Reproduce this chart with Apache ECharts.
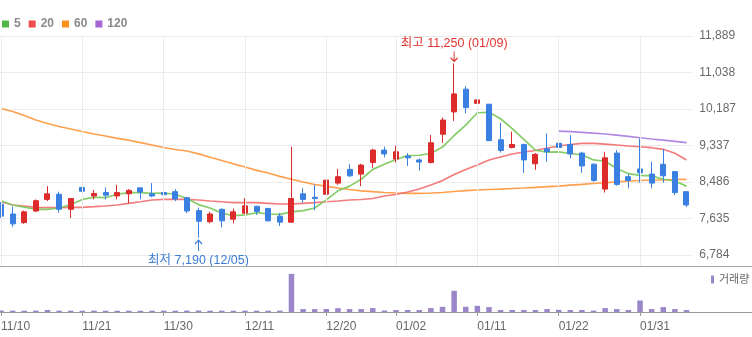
<!DOCTYPE html>
<html>
<head>
<meta charset="utf-8">
<script src="https://cdn.jsdelivr.net/npm/echarts@6/dist/echarts.min.js"></script>
<style>
  html, body { margin: 0; padding: 0; background: #fff; }
  #chart { width: 752px; height: 337px; }
</style>
</head>
<body>
<div id="chart"></div>
<script>
// Trading days shown on the chart
const dates = [
  '11/10','11/13','11/14','11/15','11/16','11/17','11/20','11/21','11/22','11/23',
  '11/24','11/27','11/28','11/29','11/30','12/01','12/04','12/05','12/06','12/07',
  '12/08','12/11','12/12','12/13','12/14','12/15','12/18','12/19','12/20','12/21',
  '12/22','12/26','12/27','12/28','01/02','01/03','01/04','01/05','01/08','01/09',
  '01/10','01/11','01/12','01/15','01/16','01/17','01/18','01/19','01/22','01/23',
  '01/24','01/25','01/26','01/29','01/30','01/31','02/01','02/02','02/05','02/06'
];
// Dates that carry a label and a vertical guide line
const tickDates = ['11/10','11/21','11/30','12/11','12/20','01/02','01/11','01/22','01/31'];
// Price levels printed on the right-hand axis
const priceTicks = [6784, 7635, 8486, 9337, 10187, 11038, 11889];

const opens = [
  7970, 7740, 7540, 7810, 8080, 8200, 7850, 8360, 8160, 8240,
  8160, 8210, 8350, 8210, 8240, 8260, 8120, 7820, 7560, 7850,
  7620, 7760, 7920, 7870, 7690, 7550, 8210, 8130, 8200, 8460,
  8780, 8670, 8940, 9230, 9020, 9090, 9000, 8940, 9600, 10120,
  10650, 10320, 10300, 9470, 9290, 9360, 8910, 9260, 9390, 9360,
  9160, 8900, 8320, 9160, 8610, 8790, 8670, 8900, 8730, 8260
];
const closes = [
  7690, 7510, 7790, 8050, 8210, 7850, 8100, 8270, 8220, 8180,
  8240, 8290, 8250, 8160, 8190, 8090, 7810, 7570, 7740, 7580,
  7790, 7930, 7800, 7580, 7550, 8100, 8080, 8100, 8530, 8610,
  8630, 8880, 9230, 9140, 9190, 9050, 8950, 9400, 9930, 10540,
  10220, 10400, 9450, 9220, 9360, 9000, 9130, 9190, 9290, 9140,
  8860, 8520, 9050, 8430, 8520, 8700, 8460, 8630, 8240, 7950
];
const lows = [
  7650, 7440, 7510, 7790, 8040, 7770, 7650, 7900, 8080, 8080,
  8080, 7990, 8080, 8130, 8040, 8040, 7760, 7190, 7520, 7430,
  7520, 7740, 7720, 7570, 7460, 7540, 8000, 7830, 8180, 8420,
  8600, 8390, 8810, 9060, 8940, 8860, 8750, 8920, 9400, 9910,
  10090, 10070, 9440, 9170, 9270, 8700, 8770, 8960, 9000, 9040,
  8700, 8490, 8240, 8400, 8340, 8470, 8340, 8470, 8180, 7900
];
const highs = [
  8020, 7910, 7820, 8080, 8390, 8260, 8110, 8360, 8300, 8360,
  8420, 8320, 8350, 8460, 8300, 8320, 8140, 7890, 7790, 7870,
  7870, 8110, 7930, 7880, 7760, 9310, 8340, 8420, 8560, 8790,
  8900, 8910, 9260, 9310, 9330, 9160, 9040, 9580, 9990, 11250,
  10720, 10850, 10300, 9870, 9660, 9380, 9160, 9620, 9530, 9580,
  9190, 8920, 9190, 9230, 8670, 9500, 8960, 9250, 8730, 8260
];
// Daily traded volume (shares)
const volumes = [
  150000, 140000, 135000, 145000, 210000, 140000, 135000, 130000, 140000, 135000,
  130000, 135000, 130000, 135000, 140000, 135000, 145000, 150000, 135000, 140000,
  130000, 140000, 135000, 135000, 140000, 3900000, 300000, 290000, 310000, 390000,
  300000, 300000, 400000, 150000, 200000, 210000, 200000, 400000, 530000, 2170000,
  530000, 630000, 500000, 200000, 210000, 210000, 200000, 300000, 220000, 200000,
  210000, 140000, 400000, 300000, 200000, 1170000, 300000, 500000, 300000, 200000
];
// Moving averages
const ma5 = [
  8050, 7950, 7900, 7850, 7850, 7880, 7960, 8080, 8130, 8120,
  8200, 8240, 8240, 8220, 8230, 8200, 8100, 7960, 7880, 7760,
  7700, 7720, 7770, 7740, 7730, 7790, 7820, 7880, 8070, 8280,
  8390, 8550, 8780, 8900, 9010, 9100, 9110, 9150, 9300, 9570,
  9810, 10100, 10110, 9960, 9730, 9480, 9230, 9180, 9190, 9150,
  9120, 9000, 8970, 8800, 8680, 8640, 8630, 8550, 8510, 8390
];
const ma20 = [
  8026, 7950, 7926, 7896, 7887, 7887, 7896, 7896, 7910, 7926,
  7950, 7989, 8026, 8066, 8082, 8082, 8082, 8066, 8043, 8026,
  8003, 8003, 8003, 7989, 7973, 7973, 7989, 8003, 8026, 8043,
  8066, 8078, 8101, 8159, 8194, 8253, 8322, 8416, 8521, 8660,
  8777, 8882, 8998, 9068, 9138, 9185, 9220, 9278, 9325, 9360,
  9388, 9388, 9371, 9348, 9325, 9308, 9285, 9248, 9155, 8998
];
const ma60 = [
  10199, 10129, 10036, 9931, 9849, 9779, 9721, 9663, 9605, 9558,
  9504, 9460, 9402, 9348, 9290, 9243, 9208, 9143, 9064, 8987,
  8910, 8835, 8758, 8695, 8618, 8549, 8486, 8427, 8385, 8346,
  8311, 8281, 8260, 8241, 8229, 8222, 8222, 8229, 8241, 8264,
  8287, 8299, 8311, 8322, 8334, 8346, 8362, 8376, 8392, 8411,
  8430, 8451, 8469, 8490, 8509, 8521, 8532, 8537, 8544, 8549
];
const ma120 = [
  null, null, null, null, null, null, null, null, null, null,
  null, null, null, null, null, null, null, null, null, null,
  null, null, null, null, null, null, null, null, null, null,
  null, null, null, null, null, null, null, null, null, null,
  null, null, null, null, null, null, null, null, 9674, 9658,
  9642, 9623, 9605, 9577, 9549, 9518, 9488, 9460, 9432, 9402
];

const FONT = '"Liberation Sans", Arial, "Noto Sans CJK KR", sans-serif';
const UP = '#dd2b2b';
const DOWN = '#3a80e2';
const fmt = v => v.toLocaleString('en-US');
const isTick = (idx, val) => tickDates.indexOf(val !== undefined ? val : dates[idx]) >= 0;

const candles = dates.map((d, i) => [opens[i], closes[i], lows[i], highs[i]]);
let hiIdx = 0, loIdx = 0;
highs.forEach((h, i) => { if (h > highs[hiIdx]) hiIdx = i; });
lows.forEach((l, i) => { if (l < lows[loIdx]) loIdx = i; });

const ARROW_DOWN = 'path://M4 0 L4 10 M0.5 6.5 L4 10 L7.5 6.5';
const ARROW_UP = 'path://M4 10 L4 0 M0.5 3.5 L4 0 L7.5 3.5';

const gridL = -4.8, gridR = 59.7;

const maLine = (name, data, line, icon) => ({
  name, type: 'line', data, xAxisIndex: 0, yAxisIndex: 0,
  symbol: 'none', showSymbol: false, silent: true, z: 2,
  lineStyle: { width: 1.7, color: line },
  itemStyle: { color: icon },
  emphasis: { disabled: true }
});

const chart = echarts.init(document.getElementById('chart'), null, { renderer: 'canvas' });
chart.setOption({
  animation: false,
  textStyle: { fontFamily: FONT },
  legend: [
    {
      data: ['5', '20', '60', '120'],
      left: 2, top: 18, padding: 0,
      icon: 'rect', itemWidth: 7, itemHeight: 7, itemGap: 8,
      selectedMode: false,
      textStyle: { fontFamily: FONT, fontSize: 12, fontWeight: 'bold', color: '#8a8a8a' }
    },
    {
      data: ['거래량'],
      left: 711, top: 274, padding: 0,
      icon: 'rect', itemWidth: 3, itemHeight: 8,
      selectedMode: false,
      textStyle: { fontFamily: FONT, fontSize: 11, color: '#666' }
    }
  ],
  grid: [
    { left: gridL, right: gridR, top: 36, bottom: 71, outerBoundsMode: 'none' },
    { left: gridL, right: gridR, top: 268, bottom: 25, outerBoundsMode: 'none' }
  ],
  xAxis: [
    {
      type: 'category', data: dates, gridIndex: 0, boundaryGap: true,
      axisLine: { show: false }, axisTick: { show: false },
      axisLabel: { show: false }, splitLine: { show: false }
    },
    {
      type: 'category', data: dates, gridIndex: 1, boundaryGap: true,
      axisLine: { show: false },
      axisTick: { show: true, alignWithLabel: true, interval: isTick, length: 4,
                  lineStyle: { color: '#999' } },
      axisLabel: { interval: isTick, align: 'left', margin: 9, fontSize: 12,
                   color: '#666', fontFamily: FONT },
      splitLine: { show: false }
    }
  ],
  yAxis: [
    {
      type: 'value', gridIndex: 0, position: 'right', min: 6528, max: 11889,
      axisLine: { show: false },
      axisTick: { show: false, customValues: priceTicks },
      axisLabel: { customValues: priceTicks, formatter: fmt, margin: 7,
                   fontSize: 12, color: '#6a6a6a', fontFamily: FONT },
      splitLine: { show: true, lineStyle: { color: '#ececec', width: 1 } }
    },
    {
      type: 'value', gridIndex: 1, min: 0, max: 4500000, show: false,
      splitLine: { show: false }
    }
  ],
  graphic: [
    { type: 'line', silent: true, z: 10,
      shape: { x1: 0, y1: 266.5, x2: 752, y2: 266.5 },
      style: { stroke: '#a8a8a8', lineWidth: 1 } },
    { type: 'line', silent: true, z: 10,
      shape: { x1: 0, y1: 312.5, x2: 752, y2: 312.5 },
      style: { stroke: '#999', lineWidth: 1 } }
  ],
  series: [
    {
      name: 'guides', type: 'line', data: [], xAxisIndex: 0, yAxisIndex: 0, z: 1,
      silent: true,
      markLine: {
        silent: true, symbol: ['none', 'none'], label: { show: false },
        lineStyle: { color: '#ececec', type: 'solid', width: 1 },
        emphasis: { disabled: true },
        data: tickDates.map(d => ({ xAxis: d }))
      }
    },
    maLine('120', ma120, 'rgba(168,124,222,0.9)', '#a765d6'),
    maLine('60', ma60, 'rgba(255,150,60,0.9)', '#f7901e'),
    maLine('20', ma20, 'rgba(240,100,100,0.85)', '#ee4b4b'),
    maLine('5', ma5, 'rgba(128,202,98,0.95)', '#52b848'),
    {
      name: 'price', type: 'candlestick', data: candles,
      xAxisIndex: 0, yAxisIndex: 0, z: 3, barWidth: 5.5, silent: true,
      itemStyle: { color: UP, color0: DOWN, borderColor: UP, borderColor0: DOWN,
                   borderColorDoji: DOWN, borderWidth: 1 },
      markPoint: {
        silent: true,
        data: [
          {
            coord: [dates[hiIdx], highs[hiIdx]],
            symbol: ARROW_DOWN, symbolSize: [7, 10], symbolOffset: [0, -7],
            itemStyle: { color: 'none', borderColor: '#e0352f', borderWidth: 1.2 },
            label: { show: true, position: 'top', distance: -1,
                     formatter: '최고 ' + fmt(highs[hiIdx]) + ' (' + dates[hiIdx] + ')',
                     color: '#e0352f', fontSize: 12.5, fontFamily: FONT }
          },
          {
            coord: [dates[loIdx], lows[loIdx]],
            symbol: ARROW_UP, symbolSize: [7, 11], symbolOffset: [0, 8],
            itemStyle: { color: 'none', borderColor: '#3b7bd6', borderWidth: 1.2 },
            label: { show: true, position: 'bottom', distance: 0,
                     formatter: '최저 ' + fmt(lows[loIdx]) + ' (' + dates[loIdx] + ')',
                     color: '#3b7bd6', fontSize: 12.5, fontFamily: FONT }
          }
        ]
      }
    },
    {
      name: '거래량', type: 'bar', data: volumes,
      xAxisIndex: 1, yAxisIndex: 1, barWidth: 5.5, silent: true,
      itemStyle: { color: '#9a86c8' }
    }
  ]
});
</script>
</body>
</html>
